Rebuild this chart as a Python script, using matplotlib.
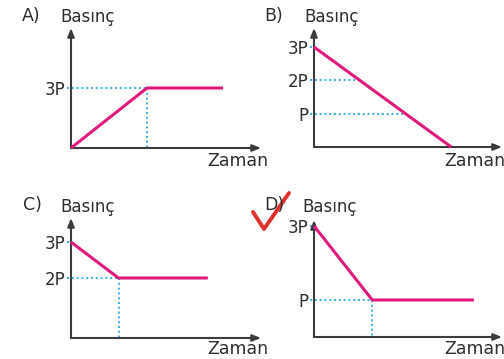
import numpy as np
import matplotlib.pyplot as plt

W, H = 504, 359

# panel data: time (arbitrary units) and pressure (in units of P)
a_time = [0, 4, 8]
a_pres = [0, 3, 3]
b_time = [0, 7.3]
b_pres = [3, 0]
c_time = [0, 2.5, 7.2]
c_pres = [3, 2, 2]
d_time = [0, 3.1, 8.5]
d_pres = [3, 1, 1]

a_ticks, a_labels = [3], ["3P"]
b_ticks, b_labels = [1, 2, 3], ["P", "2P", "3P"]
c_ticks, c_labels = [2, 3], ["2P", "3P"]
d_ticks, d_labels = [1, 3], ["P", "3P"]

# pressure levels with dotted guide lines
a_guides = [3]
b_guides = [2, 1]
c_guides = [2]
d_guides = [1]

PINK = "#e0197c"
CYAN = "#45b6df"
AXIS = "#3c3c3c"
TEXT = "#2e2e2e"

# layout in pixels: x_left, x_right, y_top, y_bottom, ylim, letter, label positions
panels = [
    dict(t=a_time, p=a_pres, ticks=a_ticks, labels=a_labels, guides=a_guides, kink=True,
         box=(71, 261, 28, 148), ylim=(0, 6), letter="A)", lpos=(22, 16), bpos=(60, 17), zpos=(207, 161)),
    dict(t=b_time, p=b_pres, ticks=b_ticks, labels=b_labels, guides=b_guides, kink=False,
         box=(314, 502, 28, 147), ylim=(0, 3.57), letter="B)", lpos=(264, 16), bpos=(304, 17), zpos=(444, 161)),
    dict(t=c_time, p=c_pres, ticks=c_ticks, labels=c_labels, guides=c_guides, kink=True,
         box=(71, 261, 218, 338), ylim=(0.33, 3.67), letter="C)", lpos=(23, 205), bpos=(60, 207), zpos=(207, 349)),
    dict(t=d_time, p=d_pres, ticks=d_ticks, labels=d_labels, guides=d_guides, kink=True,
         box=(314, 502, 220, 337), ylim=(0, 3.16), letter="D)", lpos=(264, 205), bpos=(302, 207), zpos=(444, 349)),
]

check_x = [253, 264, 289]
check_y = [212, 229, 193]


def first_cross(t, p, g):
    # first time where the curve reaches pressure g
    for i in range(len(t) - 1):
        lo, hi = sorted((p[i], p[i + 1]))
        if lo <= g <= hi:
            if p[i + 1] == p[i]:
                return t[i]
            return t[i] + (g - p[i]) * (t[i + 1] - t[i]) / (p[i + 1] - p[i])
    return t[-1]


plt.rcParams["font.family"] = ["DejaVu Sans"]

fig = plt.figure(figsize=(W / 100, H / 100), dpi=100)
fig.patch.set_facecolor("white")

for pn in panels:
    x0, x1, yt, yb = pn["box"]
    ax = fig.add_axes([x0 / W, 1 - yb / H, (x1 - x0) / W, (yb - yt) / H])
    ax.set_xlim(0, 10)
    ax.set_ylim(*pn["ylim"])
    for s in ax.spines.values():
        s.set_visible(False)
    ax.set_xticks([])
    ax.set_yticks(pn["ticks"])
    ax.set_yticklabels(pn["labels"], fontsize=12, color=TEXT)
    ax.tick_params(axis="y", length=0, pad=4)
    ax.patch.set_alpha(0)

    # axes with arrows
    arr = dict(arrowstyle="-|>,head_length=0.5,head_width=0.2", color=AXIS, lw=1.5,
               shrinkA=0, shrinkB=0)
    ax.annotate("", xy=(1, 0), xytext=(0, 0), xycoords="axes fraction", arrowprops=arr)
    ax.annotate("", xy=(0, 1), xytext=(0, 0), xycoords="axes fraction", arrowprops=arr)

    # dotted guides
    t = pn["t"]
    p = pn["p"]
    lo = pn["ylim"][0]
    dots = dict(color=CYAN, lw=1.5, ls=(0, (1, 1.3)), clip_on=False)
    for g in pn["guides"]:
        tg = first_cross(t, p, g)
        ax.plot([-0.2, tg], [g, g], **dots)
        if pn["kink"]:
            ax.plot([tg, tg], [g, lo], **dots)
    if "3P" in pn["labels"] and 3 not in pn["guides"]:
        ax.plot([-0.2, 0], [3, 3], **dots)

    ax.plot(t, p, color=PINK, lw=2.2, solid_capstyle="butt", clip_on=False, zorder=3)

    fig.text(pn["lpos"][0] / W, 1 - pn["lpos"][1] / H, pn["letter"], fontsize=12.5,
             color=TEXT, ha="left", va="center")
    fig.text(pn["bpos"][0] / W, 1 - pn["bpos"][1] / H, "Basınç", fontsize=12,
             color=TEXT, ha="left", va="center")
    fig.text(pn["zpos"][0] / W, 1 - pn["zpos"][1] / H, "Zaman", fontsize=12.5,
             color=TEXT, ha="left", va="center")

# red check mark
fig.add_artist(plt.Line2D([x / W for x in check_x], [1 - y / H for y in check_y],
                          color="#e2302e", lw=2.8, solid_joinstyle="round",
                          solid_capstyle="round"))

fig.savefig("out.png", dpi=100, facecolor="white")
